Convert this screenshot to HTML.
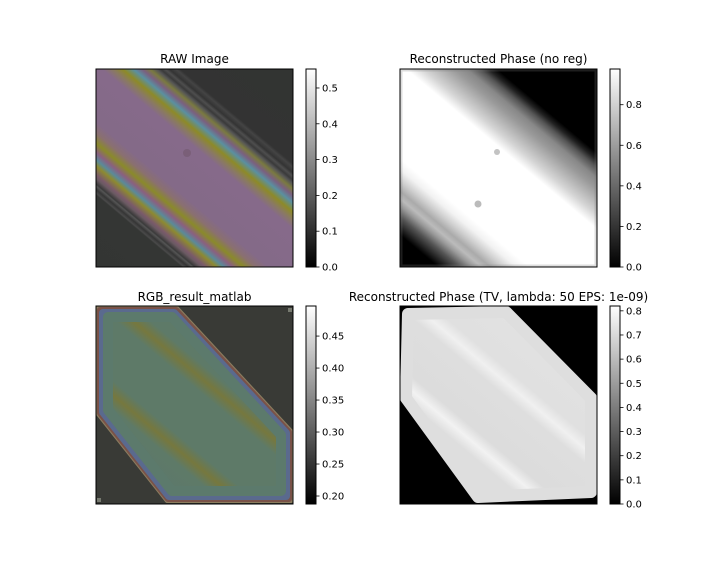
<!DOCTYPE html>
<html><head><meta charset="utf-8"><style>
html,body{margin:0;padding:0;background:#fff}
svg{display:block;font-family:"DejaVu Sans","Liberation Sans",sans-serif}
</style></head><body>
<svg id="fig" width="720" height="576" viewBox="0 0 720 576" xmlns="http://www.w3.org/2000/svg">
<defs>
<linearGradient id="cbgrad" x1="0" y1="1" x2="0" y2="0"><stop offset="0" stop-color="#000"/><stop offset="1" stop-color="#fff"/></linearGradient>
<linearGradient id="rawg" gradientUnits="userSpaceOnUse" x1="8.5" y1="205.7" x2="187.5" y2="-7.7">
<stop offset="0" stop-color="#333533"/><stop offset="0.2" stop-color="#343634"/>
<stop offset="0.205" stop-color="#4a4a4a"/><stop offset="0.215" stop-color="#353535"/>
<stop offset="0.225" stop-color="#555"/><stop offset="0.23" stop-color="#3a3a3a"/>
<stop offset="0.245" stop-color="#6a5a62"/><stop offset="0.255" stop-color="#7a5a6a"/>
<stop offset="0.28" stop-color="#8d8a30"/><stop offset="0.297" stop-color="#5a8a9a"/>
<stop offset="0.317" stop-color="#8a6080"/><stop offset="0.342" stop-color="#8a8a2a"/>
<stop offset="0.37" stop-color="#8a7070"/><stop offset="0.4" stop-color="#846a88"/>
<stop offset="0.56" stop-color="#866a8a"/><stop offset="0.585" stop-color="#8a7a60"/>
<stop offset="0.607" stop-color="#8d8a28"/><stop offset="0.632" stop-color="#5a90a0"/>
<stop offset="0.652" stop-color="#7a6080"/><stop offset="0.67" stop-color="#7a7a40"/>
<stop offset="0.685" stop-color="#555"/><stop offset="0.695" stop-color="#3a3a3a"/>
<stop offset="0.705" stop-color="#4e4e4e"/><stop offset="0.715" stop-color="#343434"/>
<stop offset="0.73" stop-color="#444"/><stop offset="0.74" stop-color="#333"/>
<stop offset="1" stop-color="#323432"/></linearGradient>
<linearGradient id="noreg" gradientUnits="userSpaceOnUse" x1="8.5" y1="205.7" x2="187.5" y2="-7.7">
<stop offset="0" stop-color="#000"/><stop offset="0.09" stop-color="#000"/>
<stop offset="0.14" stop-color="#555"/><stop offset="0.17" stop-color="#999"/>
<stop offset="0.19" stop-color="#bbb"/><stop offset="0.21" stop-color="#aaa"/>
<stop offset="0.24" stop-color="#d0d0d0"/><stop offset="0.27" stop-color="#f2f2f2"/>
<stop offset="0.3" stop-color="#fff"/><stop offset="0.56" stop-color="#fff"/>
<stop offset="0.6" stop-color="#d4d4d4"/><stop offset="0.63" stop-color="#bbb"/>
<stop offset="0.67" stop-color="#9a9a9a"/><stop offset="0.7" stop-color="#888"/>
<stop offset="0.73" stop-color="#555"/><stop offset="0.75" stop-color="#222"/>
<stop offset="0.77" stop-color="#000"/><stop offset="1" stop-color="#000"/></linearGradient>
<linearGradient id="rgbg" gradientUnits="userSpaceOnUse" x1="8.5" y1="205.7" x2="187.5" y2="-7.7">
<stop offset="0" stop-color="#5a7470"/><stop offset="0.3" stop-color="#5e7a68"/>
<stop offset="0.34" stop-color="#76783e"/><stop offset="0.38" stop-color="#5e7a68"/>
<stop offset="0.55" stop-color="#5e7a68"/><stop offset="0.59" stop-color="#76783e"/>
<stop offset="0.63" stop-color="#5e7a68"/><stop offset="1" stop-color="#5e7a68"/></linearGradient>
<linearGradient id="tvg" gradientUnits="userSpaceOnUse" x1="8.5" y1="205.7" x2="187.5" y2="-7.7">
<stop offset="0" stop-color="#dcdcdc"/><stop offset="0.3" stop-color="#dedede"/>
<stop offset="0.34" stop-color="#f2f2f2"/><stop offset="0.38" stop-color="#dcdcdc"/>
<stop offset="0.54" stop-color="#dedede"/><stop offset="0.58" stop-color="#f0f0f0"/>
<stop offset="0.62" stop-color="#e0e0e0"/><stop offset="1" stop-color="#e4e4e4"/></linearGradient>
<clipPath id="pclip"><rect x="0" y="0" width="197" height="198"/></clipPath>
</defs>

<text x="194.5" y="63" font-size="12" text-anchor="middle">RAW Image</text>
<g transform="translate(96,69)">
<rect width="197" height="198" fill="url(#rawg)"/>
<circle cx="91" cy="84" r="4" fill="#6a5060" opacity="0.4"/>
<rect width="197" height="198" fill="none" stroke="#000" stroke-width="1"/>
</g>

<text x="498.5" y="63" font-size="12" text-anchor="middle">Reconstructed Phase (no reg)</text>
<g transform="translate(400,69)">
<rect width="197" height="198" fill="url(#noreg)"/>
<circle cx="97" cy="83" r="3" fill="#888" opacity="0.5"/>
<circle cx="78" cy="135" r="3.5" fill="#777" opacity="0.5"/>
<rect x="1.5" y="1.5" width="194" height="195" fill="none" stroke="#777" stroke-width="2" opacity="0.25"/>
<rect width="197" height="198" fill="none" stroke="#000" stroke-width="1"/>
</g>

<text x="194.5" y="301" font-size="12" text-anchor="middle">RGB_result_matlab</text>
<g transform="translate(96,306)">
<rect width="197" height="198" fill="#393a36"/>
<g clip-path="url(#pclip)" stroke-linejoin="round">
<polygon points="2,2 81,2 195,125 195,195 71,195 2,108" fill="#8a7c5e" stroke="#8a7c5e" stroke-width="4"/>
<polygon points="4,4 80,4 193,126 193,193 72,193 4,107" fill="#7a5248" stroke="#7a5248" stroke-width="6"/>
<polygon points="7,7 78,7 190,127 190,190 73,190 7,106" fill="#5a6a8e" stroke="#5a6a8e" stroke-width="8"/>
<polygon points="12,11 76,11 185,129 185,185 76,185 12,104" fill="url(#rgbg)" stroke="#5c7a6c" stroke-width="10"/>
</g>
<rect x="192" y="2" width="4" height="4" fill="#777a70"/>
<rect x="1" y="192" width="4" height="4" fill="#777a70"/>
<rect width="197" height="198" fill="none" stroke="#000" stroke-width="1"/>
</g>

<text x="498.5" y="301" font-size="12" text-anchor="middle">Reconstructed Phase (TV, lambda: 50 EPS: 1e-09)</text>
<g transform="translate(400,306)">
<rect width="197" height="198" fill="#000"/>
<g clip-path="url(#pclip)">
<polygon points="8,8 106,6 191,92 191,186 78,191 6,92" fill="url(#tvg)" stroke="#dedede" stroke-width="12" stroke-linejoin="round"/>
</g>
<rect width="197" height="198" fill="none" stroke="#000" stroke-width="1"/>
</g>

<g id="cbs"></g>
</svg>
<script>
const cb1Ticks = [0.0, 0.1, 0.2, 0.3, 0.4, 0.5];
const cb1Labels = ["0.0","0.1","0.2","0.3","0.4","0.5"];
const cb1Range = [0.0, 0.553];
const cb2Ticks = [0.0, 0.2, 0.4, 0.6, 0.8];
const cb2Labels = ["0.0","0.2","0.4","0.6","0.8"];
const cb2Range = [0.0, 0.976];
const cb3Ticks = [0.20, 0.25, 0.30, 0.35, 0.40, 0.45];
const cb3Labels = ["0.20","0.25","0.30","0.35","0.40","0.45"];
const cb3Range = [0.1875, 0.497];
const cb4Ticks = [0.0, 0.1, 0.2, 0.3, 0.4, 0.5, 0.6, 0.7, 0.8];
const cb4Labels = ["0.0","0.1","0.2","0.3","0.4","0.5","0.6","0.7","0.8"];
const cb4Range = [0.0, 0.82];

const NS = "http://www.w3.org/2000/svg";
const g = document.getElementById('cbs');
function mk(tag, attrs){const e=document.createElementNS(NS,tag);for(const k in attrs)e.setAttribute(k,attrs[k]);return e;}
function colorbar(x, top, bottom, ticks, labels, range, name){
  const w = 10;
  const grp = mk('g', {});
  
  
  const r = mk('rect', {x:x, y:top, width:w, height:bottom-top, fill:'url(#cbgrad)', stroke:'#000', 'stroke-width':1});
  
  
  grp.appendChild(r);
  const yScale = v => bottom - (v - range[0]) / (range[1] - range[0]) * (bottom - top);
  ticks.forEach((t, i) => {
    const y = yScale(t);
    const ln = mk('line', {x1:x+w, x2:x+w+3.5, y1:y, y2:y, stroke:'#000', 'stroke-width':0.8});
    
    
    grp.appendChild(ln);
    const tx = mk('text', {x:x+w+6, y:y+3.5, 'font-size':10, fill:'#000'});
    
    
    tx.textContent = labels[i];
    grp.appendChild(tx);
  });
  g.appendChild(grp);
}
colorbar(306, 69, 267, cb1Ticks, cb1Labels, cb1Range, 'raw-colorbar');
colorbar(610, 69, 267, cb2Ticks, cb2Labels, cb2Range, 'no-reg-colorbar');
colorbar(306, 306, 504, cb3Ticks, cb3Labels, cb3Range, 'rgb-colorbar');
colorbar(610, 306, 504, cb4Ticks, cb4Labels, cb4Range, 'tv-colorbar');
</script>
</body></html>
